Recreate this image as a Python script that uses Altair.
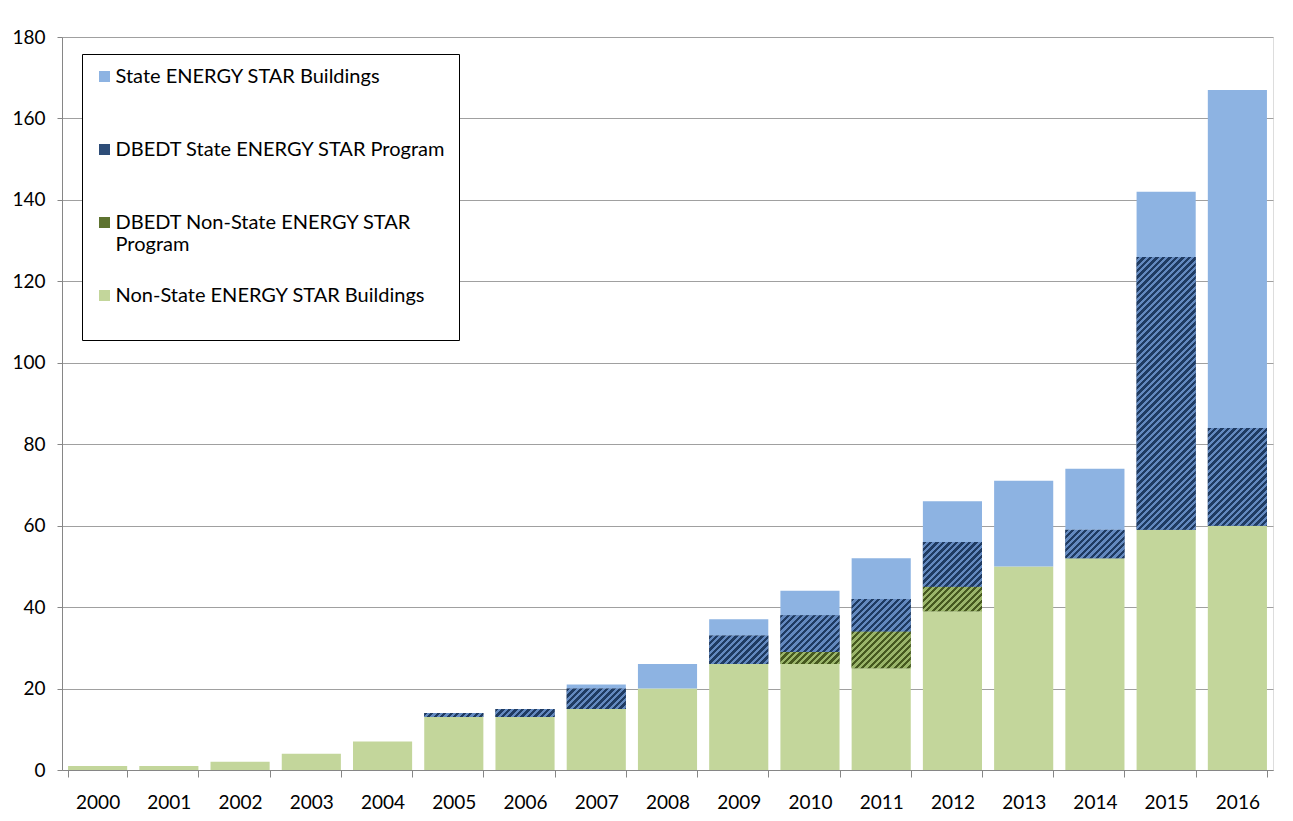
import altair as alt
import pandas as pd

# ---- data ----
years = [str(y) for y in range(2000, 2017)]
non_state_buildings = [1, 1, 2, 4, 7, 13, 13, 15, 20, 26, 26, 25, 39, 50, 52, 59, 60]
dbedt_non_state = [0, 0, 0, 0, 0, 0, 0, 0, 0, 0, 3, 9, 6, 0, 0, 0, 0]
dbedt_state = [0, 0, 0, 0, 0, 1, 2, 5, 0, 7, 9, 8, 11, 0, 7, 67, 24]
state_buildings = [0, 0, 0, 0, 0, 0, 0, 1, 6, 4, 6, 10, 10, 21, 15, 16, 83]

series_names = [
    "State ENERGY STAR Buildings",
    "DBEDT State ENERGY STAR Program",
    "DBEDT Non-State ENERGY STAR Program",
    "Non-State ENERGY STAR Buildings",
]
y_ticks = list(range(0, 181, 20))

# ---- layout / style ----
W, H = 1211, 733
Y_MAX = 180
PAD_INNER, PAD_OUTER = 0.17, 0.085
FONT = "Lato"
solid_colors = ["#8db3e2", "#2e4d78", "#5e7330", "#c3d69b"]
hatch = {
    "DBEDT State ENERGY STAR Program": ("#1f3b62", "#6389bf"),
    "DBEDT Non-State ENERGY STAR Program": ("#46591f", "#9ab56a"),
}

step = W / (len(years) - PAD_INNER + 2 * PAD_OUTER)
bar_w = step * (1 - PAD_INNER)
px_per_unit = H / Y_MAX


def stripes(h_px, dark, light, frac=0.5, period=6.5, a=1.25):
    w = bar_w
    h_px = max(h_px, 1.0)
    dt = period * w / (a * (w * w + h_px * h_px))
    stops = []
    k = 0
    while k * dt < 1:
        t0 = k * dt
        t1 = min(1.0, (k + frac) * dt)
        t2 = min(1.0, (k + 1) * dt)
        stops += [
            {"offset": t0, "color": dark},
            {"offset": t1, "color": dark},
            {"offset": t1, "color": light},
            {"offset": t2, "color": light},
        ]
        k += 1
    return {"gradient": "linear", "x1": 0, "y1": 0, "x2": a,
            "y2": a * h_px / w, "stops": stops}


# stacked segments (bottom to top)
stack_order = [
    ("Non-State ENERGY STAR Buildings", non_state_buildings),
    ("DBEDT Non-State ENERGY STAR Program", dbedt_non_state),
    ("DBEDT State ENERGY STAR Program", dbedt_state),
    ("State ENERGY STAR Buildings", state_buildings),
]
rows = []
hatch_rows = []
for i, yr in enumerate(years):
    base = 0
    for name, vals in stack_order:
        v = vals[i]
        if v > 0:
            rows.append({"year": yr, "series": name, "y0": base, "y1": base + v})
            if name in hatch:
                d, l = hatch[name]
                hatch_rows.append({"year": yr, "series": name, "y0": base,
                                   "y1": base + v,
                                   "grad": stripes(v * px_per_unit, d, l)})
        base += v

df = pd.DataFrame(rows)

x_enc = alt.X(
    "year:N",
    sort=years,
    scale=alt.Scale(paddingInner=PAD_INNER, paddingOuter=PAD_OUTER),
    axis=alt.Axis(
        title=None, labelAngle=0, tickBand="extent", tickSize=7,
        tickColor="#868686", domainColor="#868686", labelPadding=16,
        labelFontSize=19, labelFont=FONT, labelColor="#000000", grid=False,
    ),
)
y_enc = alt.Y(
    "y0:Q",
    scale=alt.Scale(domain=[0, Y_MAX], nice=False),
    axis=alt.Axis(
        title=None, values=y_ticks, tickSize=5, tickColor="#868686",
        domainColor="#868686", gridColor="#a0a0a0", gridWidth=1.2,
        labelPadding=12, labelFontSize=19, labelFont=FONT, labelColor="#000000",
    ),
)

bars = alt.Chart(df).mark_bar().encode(
    x=x_enc,
    y=y_enc,
    y2="y1:Q",
    color=alt.Color(
        "series:N",
        scale=alt.Scale(domain=series_names, range=solid_colors),
        legend=alt.Legend(
            title=None,
            orient="none",
            legendX=20,
            legendY=17,
            symbolType="square",
            symbolSize=121,
            symbolStrokeWidth=0,
            labelFont=FONT,
            labelFontSize=20,
            labelColor="#000000",
            labelLimit=500,
            labelOffset=1,
            labelExpr=(
                "datum.label == 'DBEDT Non-State ENERGY STAR Program' ? "
                "['DBEDT Non-State ENERGY STAR', 'Program'] : [datum.label, '']"
            ),
            rowPadding=31,
            padding=12.5,
            strokeColor="#000000",
            fillColor="#ffffff",
        ),
    ),
)

hatched = alt.Chart(alt.Data(values=hatch_rows)).mark_bar().encode(
    x=alt.X("year:N", sort=years),
    y=alt.Y("y0:Q"),
    y2="y1:Q",
    fill=alt.Fill("grad:N", scale=None),
)

chart = (
    alt.layer(bars, hatched)
    .properties(
        width=W,
        height=H,
        autosize=alt.AutoSizeParams(type="none"),
        padding={"left": 54, "top": 29, "right": 10, "bottom": 50},
    )
    .configure_view(stroke=None)
    .configure(background="#ffffff")
)

chart.save("out.html", embed_options={"renderer": "svg", "actions": False})
